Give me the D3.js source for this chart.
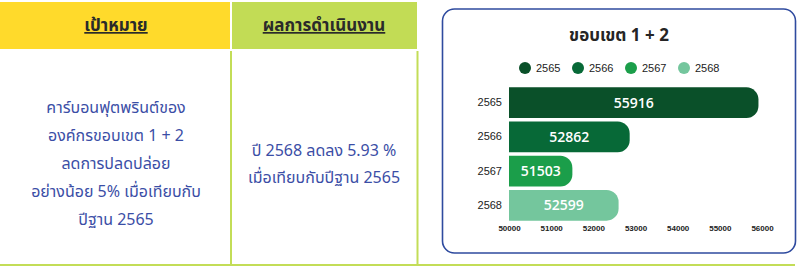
<!DOCTYPE html>
<html>
<head>
<meta charset="utf-8">
<script src="https://cdn.jsdelivr.net/npm/d3@7"></script>
<style>
  html, body { margin: 0; padding: 0; background: #fff; }
  svg { display: block; }
</style>
</head>
<body>
<svg width="800" height="268"></svg>
<script>
var years = ['2565', '2566', '2567', '2568']
var values = [55916, 52862, 51503, 52599]
var barColors = ['#0a5029', '#076937', '#1b9e4a', '#74c69d']
var xTicks = [50000, 51000, 52000, 53000, 54000, 55000, 56000]

var headers = ['เป้าหมาย', 'ผลการดำเนินงาน']
var goalLines = [
  'คาร์บอนฟุตพรินต์ของ',
  'องค์กรขอบเขต 1 + 2',
  'ลดการปลดปล่อย',
  'อย่างน้อย 5% เมื่อเทียบกับ',
  'ปีฐาน 2565'
]
var resultLines = ['ปี 2568 ลดลง 5.93 %', 'เมื่อเทียบกับปีฐาน 2565']
var chartTitle = 'ขอบเขต 1 + 2'

var svg = d3.select('svg')
var thaiFont = 'Tahoma, "Noto Sans Thai", "Noto Sans", sans-serif'
var lime = '#c3dd57'

// ---- table on the left
svg.append('rect').attr('x', 0).attr('y', 2).attr('width', 230).attr('height', 47).attr('fill', '#ffda2b')
svg.append('rect').attr('x', 232).attr('y', 2).attr('width', 185).attr('height', 47).attr('fill', '#c2dc55')

svg.append('line').attr('x1', 231).attr('x2', 231).attr('y1', 51).attr('y2', 266)
  .attr('stroke', lime).attr('stroke-width', 2)
svg.append('line').attr('x1', 417.5).attr('x2', 417.5).attr('y1', 51).attr('y2', 266)
  .attr('stroke', lime).attr('stroke-width', 2)
svg.append('line').attr('x1', 0).attr('x2', 795).attr('y1', 265).attr('y2', 265)
  .attr('stroke', lime).attr('stroke-width', 2)

svg.selectAll('.hdr')
  .data(headers)
  .join('text')
  .attr('class', 'hdr')
  .attr('x', (d, i) => i === 0 ? 116 : 324)
  .attr('y', 31)
  .attr('text-anchor', 'middle')
  .attr('font-family', thaiFont)
  .attr('font-size', 17)
  .attr('font-weight', 'bold')
  .attr('fill', '#2a2a2a')
  .attr('text-decoration', 'underline')
  .text(d => d)

svg.selectAll('.goal')
  .data(goalLines)
  .join('text')
  .attr('class', 'goal')
  .attr('x', 116)
  .attr('y', (d, i) => 113 + i * 28)
  .attr('text-anchor', 'middle')
  .attr('font-family', thaiFont)
  .attr('font-size', 16)
  .attr('fill', '#3b4ea6')
  .text(d => d)

svg.selectAll('.res')
  .data(resultLines)
  .join('text')
  .attr('class', 'res')
  .attr('x', 324)
  .attr('y', (d, i) => 156 + i * 27)
  .attr('text-anchor', 'middle')
  .attr('font-family', thaiFont)
  .attr('font-size', 16)
  .attr('fill', '#3b4ea6')
  .text(d => d)

// ---- chart panel
svg.append('rect')
  .attr('x', 442.5).attr('y', 9)
  .attr('width', 353).attr('height', 244)
  .attr('rx', 12)
  .attr('fill', '#fff')
  .attr('stroke', '#2f4b9f')
  .attr('stroke-width', 1.6)

svg.append('text')
  .attr('x', 619).attr('y', 41)
  .attr('text-anchor', 'middle')
  .attr('font-family', thaiFont)
  .attr('font-size', 17)
  .attr('font-weight', 'bold')
  .attr('fill', '#252525')
  .text(chartTitle)

var legend = svg.selectAll('.lg')
  .data(years)
  .join('g')
  .attr('class', 'lg')
  .attr('transform', (d, i) => 'translate(' + (525 + i * 53) + ',68)')
legend.append('circle').attr('r', 6).attr('fill', (d, i) => barColors[i])
legend.append('text')
  .attr('x', 11).attr('dy', '0.35em')
  .attr('font-family', 'Arial, "Liberation Sans", sans-serif')
  .attr('font-size', 11)
  .attr('fill', '#222')
  .text(d => d)

var x = d3.scaleLinear().domain([50000, 56000]).range([509, 762])
var y = d3.scaleBand().domain(years).range([86, 222]).paddingInner(0.1).paddingOuter(0.04)

function barPath(d, i) {
  var x0 = x.domain()[0]
  var left = x(x0), right = x(d), top = y(years[i]), h = y.bandwidth()
  var r = Math.min(12, (right - left) / 2)
  return 'M' + left + ',' + top +
    'H' + (right - r) +
    'A' + r + ',' + r + ' 0 0 1 ' + right + ',' + (top + r) +
    'V' + (top + h - r) +
    'A' + r + ',' + r + ' 0 0 1 ' + (right - r) + ',' + (top + h) +
    'H' + left + 'Z'
}

svg.selectAll('.bar')
  .data(values)
  .join('path')
  .attr('class', 'bar')
  .attr('d', barPath)
  .attr('fill', (d, i) => barColors[i])

svg.selectAll('.val')
  .data(values)
  .join('text')
  .attr('class', 'val')
  .attr('x', d => (x(50000) + x(d)) / 2)
  .attr('y', (d, i) => y(years[i]) + y.bandwidth() / 2)
  .attr('dy', '0.36em')
  .attr('text-anchor', 'middle')
  .attr('font-family', '"Open Sans", sans-serif')
  .attr('font-size', 14)
  .attr('font-weight', 600)
  .attr('fill', '#fff')
  .text(d => d)

var yAxis = svg.append('g')
  .attr('transform', 'translate(' + x(50000) + ',0)')
  .call(d3.axisLeft(y).tickSize(0).tickPadding(7))
yAxis.select('.domain').remove()
yAxis.selectAll('text')
  .attr('font-family', 'Arial, "Liberation Sans", sans-serif')
  .attr('font-size', 11)
  .attr('fill', '#222')

var xAxis = svg.append('g')
  .attr('transform', 'translate(0,222)')
  .call(d3.axisBottom(x).tickValues(xTicks).tickFormat(d3.format('d')).tickSize(0).tickPadding(3))
xAxis.select('.domain').remove()
xAxis.selectAll('text')
  .attr('font-family', 'Arial, "Liberation Sans", sans-serif')
  .attr('font-size', 8)
  .attr('font-weight', 'bold')
  .attr('fill', '#222')
</script>
</body>
</html>
